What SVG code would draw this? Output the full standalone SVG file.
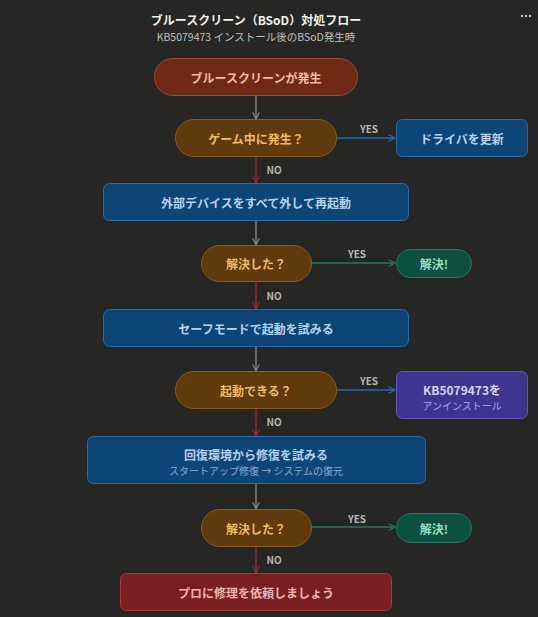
<svg xmlns="http://www.w3.org/2000/svg" width="538" height="617" viewBox="0 0 538 617">
<defs>
<style>
text{font-family:"Noto Sans CJK JP","Noto Sans",sans-serif;text-anchor:middle;dominant-baseline:central}
.t{font-size:12px;font-weight:bold}
.s{font-size:10px}
.lbl{font-size:10px;font-weight:bold;fill:#b8b8b4}
.start rect{fill:#6e2a14;stroke:#9c4a2c}
.dec rect{fill:#5e3a0c;stroke:#8a5a1e}
.blue rect{fill:#0e4577;stroke:#2c6aa2}
.ok rect{fill:#0c5140;stroke:#237a62}
.pur rect{fill:#3d3590;stroke:#6558c0}
.red rect{fill:#7a1f20;stroke:#a83c3c}
.c{fill:none;stroke-width:1.3}
</style>
<marker id="ag" viewBox="0 0 10 10" refX="9" refY="5" markerWidth="8" markerHeight="8" orient="auto" markerUnits="userSpaceOnUse"><path d="M1,1 L9,5 L1,9" fill="none" stroke="#8a8a86" stroke-width="1.4"/></marker>
<marker id="ar" viewBox="0 0 10 10" refX="9" refY="5" markerWidth="8" markerHeight="8" orient="auto" markerUnits="userSpaceOnUse"><path d="M1,1 L9,5 L1,9" fill="none" stroke="#9c2c2c" stroke-width="1.4"/></marker>
<marker id="ab" viewBox="0 0 10 10" refX="9" refY="5" markerWidth="8" markerHeight="8" orient="auto" markerUnits="userSpaceOnUse"><path d="M1,1 L9,5 L1,9" fill="none" stroke="#2a6aa8" stroke-width="1.4"/></marker>
<marker id="an" viewBox="0 0 10 10" refX="9" refY="5" markerWidth="8" markerHeight="8" orient="auto" markerUnits="userSpaceOnUse"><path d="M1,1 L9,5 L1,9" fill="none" stroke="#217a62" stroke-width="1.4"/></marker>
</defs>
<rect width="538" height="617" fill="#262624"/>
<g id="menu" fill="#c8c8c4"><circle cx="522" cy="16" r="1.2"/><circle cx="526" cy="16" r="1.2"/><circle cx="530" cy="16" r="1.2"/></g>
<g id="title">
<text x="256" y="19" font-size="12" font-weight="bold" fill="#f0f0ec">ブルースクリーン（BSoD）対処フロー</text>
<text x="256" y="36" font-size="10.5" fill="#c0c0bc">KB5079473 インストール後のBSoD発生時</text>
</g>
<g id="connectors">
<line class="c" x1="256" y1="96" x2="256" y2="119" stroke="#8a8a86" marker-end="url(#ag)"/>
<line class="c" x1="336" y1="138" x2="395" y2="138" stroke="#2a6aa8" marker-end="url(#ab)"/>
<text class="lbl" x="369" y="128">YES</text>
<line class="c" x1="256" y1="157" x2="256" y2="183" stroke="#9c2c2c" marker-end="url(#ar)"/>
<text class="lbl" x="274" y="169">NO</text>
<line class="c" x1="256" y1="221" x2="256" y2="245" stroke="#8a8a86" marker-end="url(#ag)"/>
<line class="c" x1="311" y1="263" x2="395" y2="263" stroke="#217a62" marker-end="url(#an)"/>
<text class="lbl" x="357" y="253">YES</text>
<line class="c" x1="256" y1="282" x2="256" y2="309" stroke="#9c2c2c" marker-end="url(#ar)"/>
<text class="lbl" x="274" y="295">NO</text>
<line class="c" x1="256" y1="347" x2="256" y2="371" stroke="#8a8a86" marker-end="url(#ag)"/>
<line class="c" x1="336" y1="390" x2="395" y2="390" stroke="#2a6aa8" marker-end="url(#ab)"/>
<text class="lbl" x="369" y="380">YES</text>
<line class="c" x1="256" y1="409" x2="256" y2="436" stroke="#9c2c2c" marker-end="url(#ar)"/>
<text class="lbl" x="274" y="421">NO</text>
<line class="c" x1="256" y1="484" x2="256" y2="509" stroke="#8a8a86" marker-end="url(#ag)"/>
<line class="c" x1="311" y1="527" x2="395" y2="527" stroke="#217a62" marker-end="url(#an)"/>
<text class="lbl" x="357" y="518">YES</text>
<line class="c" x1="256" y1="547" x2="256" y2="573" stroke="#9c2c2c" marker-end="url(#ar)"/>
<text class="lbl" x="274" y="559">NO</text>
</g>
<g id="n1" class="start"><rect x="154.5" y="58.5" width="203" height="37" rx="18.5"/><text class="t" x="256" y="77" fill="#f2bca4">ブルースクリーンが発生</text></g>
<g id="d1" class="dec"><rect x="175.5" y="119.5" width="161" height="37" rx="18.5"/><text class="t" x="256" y="138" fill="#f2bc5c">ゲーム中に発生？</text></g>
<g id="n2" class="blue"><rect x="396.5" y="119.5" width="131" height="37" rx="6"/><text class="t" x="462" y="138" fill="#b8d2ee">ドライバを更新</text></g>
<g id="n3" class="blue"><rect x="103.5" y="183.5" width="305" height="37" rx="6"/><text class="t" x="256" y="202" fill="#b8d2ee">外部デバイスをすべて外して再起動</text></g>
<g id="d2" class="dec"><rect x="201.5" y="245.5" width="110" height="36" rx="18"/><text class="t" x="256" y="263.5" fill="#f2bc5c">解決した？</text></g>
<g id="n4" class="ok"><rect x="396.5" y="249.5" width="75" height="28" rx="14"/><text class="t" x="434" y="263.5" fill="#9cdcc4">解決!</text></g>
<g id="n5" class="blue"><rect x="103.5" y="309.5" width="305" height="37" rx="6"/><text class="t" x="256" y="328" fill="#b8d2ee">セーフモードで起動を試みる</text></g>
<g id="d3" class="dec"><rect x="175.5" y="371.5" width="161" height="37" rx="18.5"/><text class="t" x="256" y="390" fill="#f2bc5c">起動できる？</text></g>
<g id="n6" class="pur"><rect x="396.5" y="371.5" width="131" height="47" rx="6"/><text class="t" x="462" y="389" fill="#d8d2fa">KB5079473を</text><text class="s" x="462" y="405" fill="#aea6e6">アンインストール</text></g>
<g id="n7" class="blue"><rect x="87.5" y="436.5" width="338" height="47" rx="6"/><text class="t" x="256" y="454" fill="#b8d2ee">回復環境から修復を試みる</text><text class="s" x="256" y="470" fill="#88aad0">スタートアップ修復 → システムの復元</text></g>
<g id="d4" class="dec"><rect x="201.5" y="509.5" width="110" height="37" rx="18.5"/><text class="t" x="256" y="528" fill="#f2bc5c">解決した？</text></g>
<g id="n8" class="ok"><rect x="396.5" y="513.5" width="75" height="29" rx="14.5"/><text class="t" x="434" y="528" fill="#9cdcc4">解決!</text></g>
<g id="n9" class="red"><rect x="120.5" y="573.5" width="271" height="37" rx="6"/><text class="t" x="256" y="592" fill="#f0b4b0">プロに修理を依頼しましょう</text></g>
</svg>
